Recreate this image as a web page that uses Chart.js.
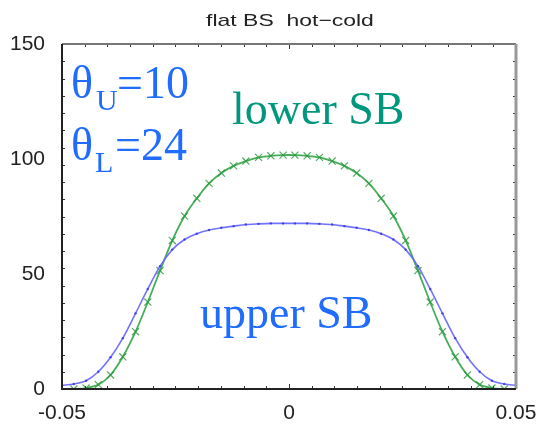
<!DOCTYPE html>
<html>
<head>
<meta charset="utf-8">
<script src="https://cdn.jsdelivr.net/npm/chart.js@4.4.1/dist/chart.umd.min.js"></script>
<style>
    body { margin: 0; background: #fff; }
    #wrap { width: 539px; height: 426px; position: relative; }
</style>
</head>
<body>
<div id="wrap"><canvas id="chart"></canvas></div>
<script>
// sample positions along the x axis
const xs = [-0.0474, -0.0447, -0.0420, -0.0393, -0.0366, -0.0338, -0.0311, -0.0284, -0.0257,
    -0.0230, -0.0203, -0.0176, -0.0149, -0.0122, -0.0095, -0.0067, -0.0040, -0.0013,
    0.0013, 0.0040, 0.0067, 0.0095, 0.0122, 0.0149, 0.0176, 0.0203, 0.0230,
    0.0257, 0.0284, 0.0311, 0.0338, 0.0366, 0.0393, 0.0420, 0.0447, 0.0474];

// lower SB (green, x markers)
const lowerSB = [0.0, 0.4, 1.9, 6.1, 14.0, 24.9, 37.8, 51.5, 64.6,
    75.2, 82.9, 89.4, 93.9, 97.0, 99.1, 100.7, 101.4, 101.7,
    101.7, 101.4, 100.7, 99.1, 97.0, 93.9, 89.4, 82.9, 75.2,
    64.6, 51.5, 37.8, 24.9, 14.0, 6.1, 1.9, 0.4, 0.0];

// upper SB (blue, dots), with end points at the axis limits
const upperX = [-0.05].concat(xs, [0.05]);
const upperSB = [1.6, 2.2, 3.6, 7.5, 13.8, 22.1, 32.9, 43.5, 53.4, 60.6,
    65.0, 67.5, 69.1, 70.1, 70.8, 71.5, 71.8, 72.0, 72.0,
    72.0, 72.0, 71.8, 71.5, 70.8, 70.1, 69.1, 67.5, 65.0,
    60.6, 53.4, 43.5, 32.9, 22.1, 13.8, 7.5, 3.6, 2.2, 1.6];

const xTicks = [-0.05, 0, 0.05];
const xTickLabels = ["-0.05", "0", "0.05"];
const yTicks = [0, 50, 100, 150];

const blueText = "#1f6cff";
const tealText = "#00977f";

function pts(x, y) {
    return x.map((v, i) => ({x: v, y: y[i]}));
}

// MATLAB-like frame with inward ticks, title and annotations
const decorations = {
    id: "decorations",
    afterDraw(chart) {
        const {ctx, chartArea: a, scales} = chart;
        const sx = scales.x, sy = scales.y;
        ctx.save();

        // minor + major ticks pointing inward
        ctx.strokeStyle = "#333";
        ctx.lineWidth = 1;
        ctx.beginPath();
        for (let v = -0.05; v <= 0.0501; v += 0.005) {
            const px = Math.round(sx.getPixelForValue(v)) + 0.5;
            const len = xTicks.some(t => Math.abs(t - v) < 1e-9) ? 5 : 3;
            ctx.moveTo(px, a.bottom); ctx.lineTo(px, a.bottom - len);
            ctx.moveTo(px, a.top); ctx.lineTo(px, a.top + len);
        }
        for (let v = 0; v <= 150.01; v += 7.5) {
            const py = Math.round(sy.getPixelForValue(v)) + 0.5;
            const len = yTicks.includes(v) ? 5 : 3;
            ctx.moveTo(a.left, py); ctx.lineTo(a.left + len, py);
            ctx.moveTo(a.right, py); ctx.lineTo(a.right - len, py);
        }
        ctx.stroke();

        // frame
        ctx.lineWidth = 2;
        ctx.strokeStyle = "#777";
        ctx.beginPath();
        ctx.moveTo(a.left, a.top); ctx.lineTo(a.right, a.top);
        ctx.stroke();
        ctx.lineWidth = 3;
        ctx.strokeStyle = "#999";
        ctx.beginPath();
        ctx.moveTo(a.right, a.top); ctx.lineTo(a.right, a.bottom);
        ctx.stroke();
        ctx.lineWidth = 2;
        ctx.strokeStyle = "#222";
        ctx.beginPath();
        ctx.moveTo(a.left, a.top); ctx.lineTo(a.left, a.bottom); ctx.lineTo(a.right, a.bottom);
        ctx.stroke();

        // title
        ctx.fillStyle = "#222";
        ctx.font = "17px 'Liberation Sans', Arial, sans-serif";
        ctx.textBaseline = "middle";
        ctx.textAlign = "center";
        ctx.save();
        ctx.translate(290, 21);
        ctx.scale(1.35, 1);
        ctx.fillText("flat BS  hot\u2212cold", 0, 0);
        ctx.restore();

        // annotations
        ctx.textAlign = "left";
        ctx.textBaseline = "alphabetic";
        const big = "46px 'Liberation Serif', 'Times New Roman', serif";
        const sub = "30px 'Liberation Serif', 'Times New Roman', serif";
        ctx.fillStyle = blueText;
        ctx.font = big; ctx.fillText("\u03b8", 71, 98);
        ctx.font = sub; ctx.fillText("U", 96, 110);
        ctx.font = big; ctx.fillText("=10", 117, 98);
        ctx.font = big; ctx.fillText("\u03b8", 71, 160);
        ctx.font = sub; ctx.fillText("L", 95, 172);
        ctx.font = big; ctx.fillText("=24", 115, 160);
        ctx.fillText("upper SB", 200, 328);
        ctx.fillStyle = tealText;
        ctx.fillText("lower SB", 232, 124);

        ctx.restore();
    }
};

new Chart(document.getElementById("chart"), {
    type: "line",
    data: {
        datasets: [
            {
                label: "upper SB",
                data: pts(upperX, upperSB),
                borderColor: "rgba(100,100,255,0.9)",
                backgroundColor: "rgba(60,60,230,0.9)",
                borderWidth: 1.6,
                pointRadius: 1.2,
                pointBorderWidth: 0,
                tension: 0.3,
            },
            {
                label: "lower SB",
                data: pts(xs, lowerSB),
                borderColor: "rgba(50,165,70,0.9)",
                backgroundColor: "rgba(30,140,50,0.9)",
                pointBorderColor: "rgba(40,150,60,0.8)",
                borderWidth: 1.8,
                pointStyle: "crossRot",
                pointRadius: 5,
                pointBorderWidth: 1.2,
                tension: 0.3,
            },
        ],
    },
    options: {
        responsive: true,
        maintainAspectRatio: false,
        animation: false,
        layout: {padding: {top: 44, right: 23, left: 0, bottom: 0}},
        plugins: {
            legend: {display: false},
            tooltip: {enabled: false},
        },
        scales: {
            x: {
                type: "linear",
                min: -0.05,
                max: 0.05,
                afterBuildTicks: (scale) => {
                    scale.ticks = xTicks.map(v => ({value: v}));
                },
                afterFit: (scale) => {
                    scale.height = 37;
                    scale.paddingLeft = 0;
                    scale.paddingRight = 0;
                },
                grid: {display: false},
                border: {display: false},
                ticks: {
                    padding: 4,
                    color: "#222",
                    font: {family: "'Liberation Sans', Arial, sans-serif", size: 21},
                    maxRotation: 0,
                    callback: (v) => xTickLabels[xTicks.findIndex(t => Math.abs(t - v) < 1e-9)],
                },
            },
            y: {
                min: 0,
                max: 150,
                afterBuildTicks: (scale) => {
                    scale.ticks = yTicks.map(v => ({value: v}));
                },
                afterFit: (scale) => {
                    scale.width = 62;
                    scale.paddingTop = 0;
                    scale.paddingBottom = 0;
                },
                grid: {display: false},
                border: {display: false},
                ticks: {
                    padding: 9,
                    color: "#222",
                    font: {family: "'Liberation Sans', Arial, sans-serif", size: 21},
                },
            },
        },
    },
    plugins: [decorations],
});
</script>
</body>
</html>
